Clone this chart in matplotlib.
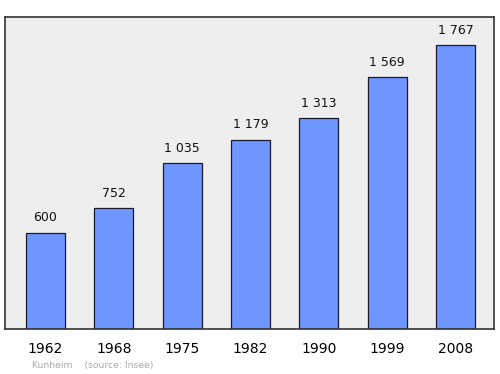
import matplotlib
matplotlib.use("Agg")
import matplotlib.pyplot as plt

years = ["1962", "1968", "1975", "1982", "1990", "1999", "2008"]
population = [600, 752, 1035, 1179, 1313, 1569, 1767]
value_labels = ["600", "752", "1 035", "1 179", "1 313", "1 569", "1 767"]


def main() -> None:
    fig = plt.figure(figsize=(5.0, 3.74), dpi=100)
    ax = fig.add_axes([0.01, 0.1203, 0.978, 0.8342])
    ax.set_facecolor("#eeeeee")

    x = list(range(len(years)))
    ax.bar(x, population, width=0.57, color="#6f96ff", edgecolor="#1a1a2e", linewidth=0.9)

    for xi, val, lab in zip(x, population, value_labels):
        ax.annotate(lab, (xi, val), xytext=(0, 6), textcoords="offset points",
                    ha="center", va="bottom", fontsize=9, color="#111111")

    ax.set_xlim(-0.593, 6.563)
    ax.set_ylim(0, 1944)
    ax.set_yticks([])
    ax.set_xticks(x)
    ax.set_xticklabels(years, fontsize=10)
    ax.tick_params(axis="x", length=0, pad=9)
    for s in ax.spines.values():
        s.set_color("#333333")
        s.set_linewidth(1.2)

    fig.text(0.064, 0.012, "Kunheim    (source: Insee)", fontsize=6.7, color="#aaaaaa",
             ha="left", va="bottom")

    fig.savefig("out.png", dpi=100)


if __name__ == "__main__":
    main()
